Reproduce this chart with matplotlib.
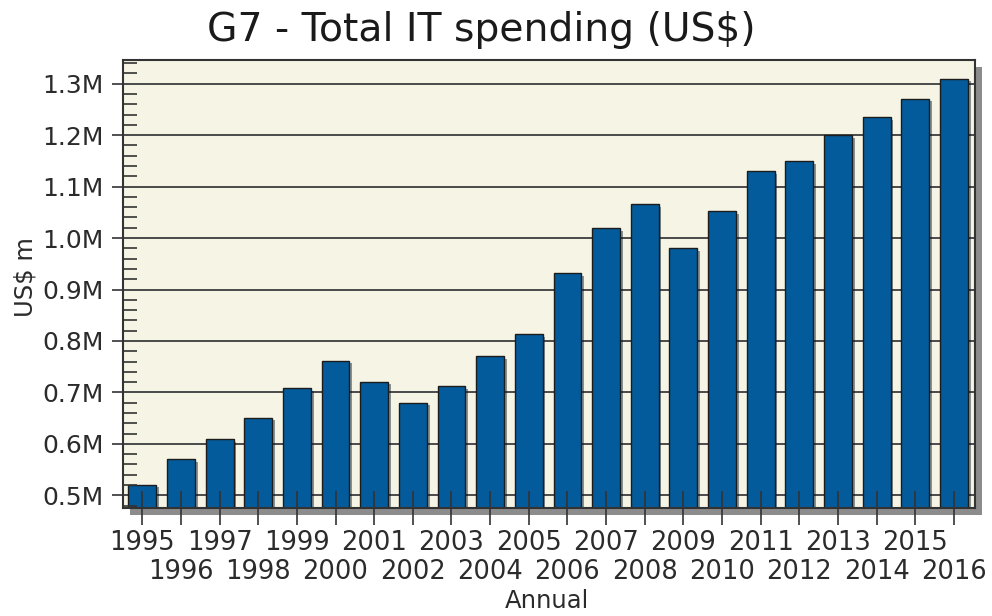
import numpy as np
import matplotlib
matplotlib.use("Agg")
import matplotlib.pyplot as plt
import matplotlib.patheffects as pe
import matplotlib.transforms as mtransforms
from matplotlib.ticker import FuncFormatter, MultipleLocator

# data (US$ m)
years = [str(y) for y in range(1995, 2017)]
spend = [521000, 570000, 609000, 651000, 709000, 762000, 721000, 680000,
         713000, 771000, 814000, 932000, 1019000, 1066000, 981000, 1052000,
         1130000, 1149000, 1200000, 1235000, 1271000, 1310000]
yticks = [500000, 600000, 700000, 800000, 900000, 1000000, 1100000, 1200000, 1300000]

title = "G7 - Total IT spending (US$)"
xlabel = "Annual"
ylabel = "US$ m"

txt = "#2b2b2b"
bar_col = "#035b9b"
bg = "#f6f4e4"

fig = plt.figure(figsize=(9.92, 6.16), dpi=100)
ax = fig.add_axes([0.124, 0.175, 0.859, 0.728])
ax.set_facecolor(bg)
ax.patch.set_path_effects([pe.SimplePatchShadow(offset=(5, -5), shadow_rgbFace="#8c8c8c", alpha=1.0),
                           pe.Normal()])

x = np.arange(len(years))
bars = ax.bar(x, spend, width=0.72, color=bar_col, edgecolor="#1c1c1c", linewidth=1.0, zorder=1)
for b in bars:
    b.set_path_effects([pe.SimplePatchShadow(offset=(2, -2), alpha=0.45), pe.Normal()])

# gridlines behind bars
ax.hlines(yticks, -0.5, len(years), colors="#4a4a4a", linewidth=1.4, zorder=0.5)

ax.set_xlim(-0.5, 21.55)
ax.set_ylim(475000, 1346500)

ax.set_yticks(yticks)
ax.yaxis.set_major_formatter(FuncFormatter(lambda v, p: f"{v/1e6:.1f}M"))
ax.yaxis.set_minor_locator(MultipleLocator(20000))
ax.tick_params(axis="y", which="major", direction="out", length=8, width=1.2,
               color="#333333", labelsize=18, labelcolor=txt, pad=6)
ax.tick_params(axis="y", which="minor", direction="in", length=10, width=1.2, color="#333333")

ax.set_xticks(x)
ax.set_xticklabels(years)
ax.tick_params(axis="x", which="major", direction="inout", length=24, width=1.2,
               color="#333333", labelsize=18.5, labelcolor=txt, pad=4)
# stagger every other year label onto a second row
shift = mtransforms.ScaledTranslation(0, -0.285, fig.dpi_scale_trans)
for i, lab in enumerate(ax.get_xticklabels()):
    if i % 2 == 1:
        lab.set_transform(lab.get_transform() + shift)

for s in ax.spines.values():
    s.set_color("#333333")
    s.set_linewidth(1.5)

fig.text(0.485, 0.951, title, ha="center", va="center", fontsize=28.3, color="#1a1a1a")
fig.text(0.551, 0.024, xlabel, ha="center", va="center", fontsize=17.5, color=txt)
fig.text(0.026, 0.55, ylabel, ha="center", va="center", rotation=90, fontsize=17.5, color=txt)

fig.savefig("out.png", dpi=100, facecolor="white")
